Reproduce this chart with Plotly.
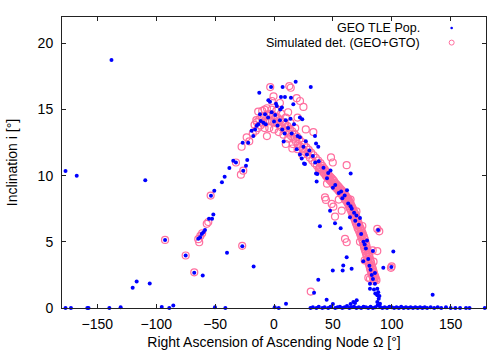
import plotly.graph_objects as go

# ---------------- DATA ----------------
# GEO TLE population: (RAAN deg, inclination deg)
geo_zero_line = [(-177,0),(-172.4,0),(-158.5,0),(-157.5,0),(-139.8,0),(-130.2,0.05),(-95.3,0.08),
    (-88.9,0),(-85.5,0.18),(-50.1,0.05),(-41.3,0),(0.6,0.05),(4,0),(31,0),(33,0.05),(36,0),(38,0.1),
    (41,0),(43,0.05),(46,0),(48,0.1),(50,0.3),(52,0),(54,0.05),(56,0.1),(58,0),(60,0.05),(62,0.15),
    (64,0),(66,0.05),(68,0.1),(70,0),(72,0.05),(74,0),(76,0.1),(78,0.05),(80,0),(82,0.1),(84,0),
    (86,0.05),(88,0.2),(90,0.1),(92,0),(94,0.05),(96,0),(98,0.1),(100,0.05),(102,0),(104,0.05),
    (106,0),(108,0.1),(110,0),(112,0.05),(114,0),(116,0.05),(118,0),(120,0.05),(122,0),(124,0.05),
    (126,0),(128,0.05),(130,0),(133,0.05),(136,0),(139,0.05),(142,0),(146,0.05),(150,0),(154,0),
    (158,0),(163,0),(166,0),(179,0)]
geo_tail = [(67.4,0.45),(70.2,0.58),(68.8,0.38),(65,0.3),(81.5,1.84),(85.7,1.84),(81.5,1.46),
    (84.9,1.39),(87.7,1.46),(88.5,1.2),(87.7,0.96),(88.9,0.7),(87.7,0.45),(90,0.33),(86,1.1),(89.5,0.9)]
geo_outliers = [(-177,10.35),(-167.5,10.0),(-138,18.75),(-109.3,9.65),(-116.6,2.0),(-120,1.54),
    (-105.5,1.86),(-92.5,5.15),(-75,3.97),(-67.7,2.67),(-60.5,2.46),(-39.9,4.17),(-26.9,4.67),
    (-17.3,3.14),(10.2,0.33),(34,1.16),(134.7,1.0),(101.3,4.27),(61.7,3.84),(49.9,2.84),(44.7,0.63),
    (37.6,2.14),(39,6.18),(56.6,6.03),(47.6,7.36),(51.8,6.41),(64.5,6.86),(35.7,10.17),(65.1,10.17),
    (36.2,9.57),(58.3,2.84),(58.8,3.22),(65.9,2.97),(92.8,3.04),(85.7,2.64),(75.8,3.54),(99.6,3.1),
    (88.4,5.9),(84,4.3)]
geo_arm = [(-64.3,5.23),(-62.8,5.35),(-61.4,5.6),(-60,5.73),(-58.6,5.9),(-55.2,6.74),(-52.6,6.74),
    (-51.5,7.06),(-50.7,8.87),(-53.5,8.49),(-44.2,9.5),(-41.9,9.92),(-37.9,10.58),(-34.6,11.13),
    (-32.3,11.0),(-22.7,11.18),(-23.8,10.75),(-26.1,10.38),(-26.6,12.5),(-21.9,12.5),(-17.6,13.0),
    (-19,13.4),(-16.1,13.5),(-14.7,13.77),(-13.4,13.9),(-11.3,14.14),(-11.9,14.65),(-7.6,14.65),
    (-12.5,16.28),(-2.5,16.7),(-4.8,15.7),(-3.4,15.6),(1.7,15.45),(7.3,16.7),(14.4,15.9),(18.4,17.1),
    (5.9,15.95),(9.3,15.95),(16.4,15.4),(8.2,12.58),(19.3,12.0),(22,11.6),(23.5,11.3),(26.3,10.88),
    (31.2,16.7),(22,14.4),(24,14.27),(34.8,13.0),(35.7,12.43),(37.6,12.19),(25.5,10.93),(36.8,10.13),
    (2.4,15.27),(5.3,15.0),(6.7,15.15)]
geo_band = [(42,10.6),(46,10.2),(52,9.3),(55,8.7),(60,8.5),(63,7.9),(66,7.5),(70,7.0),(72,6.3),
    (74,5.6),(76,5.0),(78,4.5),(80,3.7),(81,3.2),(82,2.9),(83,2.5),(84,2.2),(38,11.1),(30,11.9),
    (27,12.6),(20,13.0),(12,13.6),(5,14.2),(0,14.1),(-5,14.4),(-9,14.0),(3,13.8),(10,14.2),(15,13.2),
    (25,12.2),(33,11.5),(45,9.8),(57,8.8),(68,7.2),(-2,14.8),(7,13.5),(17,13.9),(28,11.6),(48,10.4),
    (62,8.9),(73,6.8),(79,5.1),(-7,13.9),(1,14.6),(9,13.2),(14,14.3),(22,12.9),(35,11.0),(50,9.1),
    (58,8.3),(65,7.7),(69,6.6),(77,4.8)]

# Simulated detections (GEO+GTO): (RAAN deg, inclination deg)
sim_band_top_a = [(-16.5,13.85),(-14.5,14.05),(-12.5,14.25),(-10.5,14.4),(-8.5,14.5),(-6.5,14.6),
    (-4.5,14.65),(-2.5,14.65),(-0.5,14.55),(1.5,14.45),(3.5,14.35),(5.5,14.2),(7.5,14.05),(9.5,13.9),
    (11.5,13.75),(13.5,13.55),(15.5,13.35),(17.5,13.15),(19.5,12.95),(21.5,12.75),(23.5,12.55),
    (25.5,12.35),(27.5,12.15),(29.5,11.95),(31.5,11.75),(33.5,11.55),(35.5,11.35),(37.5,11.15),
    (39.5,10.95)]
sim_band_top_b = [(-15.5,13.4),(-13.5,13.6),(-11.5,13.8),(-9.5,13.95),(-7.5,14.05),(-5.5,14.15),
    (-3.5,14.15),(-1.5,14.1),(0.5,14.05),(2.5,13.95),(4.5,13.85),(6.5,13.65),(8.5,13.5),(10.5,13.35),
    (12.5,13.2),(14.5,13.0),(16.5,12.8),(18.5,12.6),(20.5,12.4),(22.5,12.2),(24.5,12.0),(26.5,11.8),
    (28.5,11.6),(30.5,11.35),(32.5,11.15),(34.5,10.95),(36.5,10.75),(38.5,10.55)]
sim_band_top_c = [(-10,14.9),(-6,15.1),(-2,15.0),(2,14.9),(6,14.7),(10,14.4),(14,14.0),(18,13.6),
    (-8,13.6),(-4,13.6),(0,13.5),(4,13.3),(8,13.1),(12,12.8),(16,12.4),(20,12.0),(24,11.6)]
sim_band_steep_a = [(41,10.75),(42,10.6),(43,10.5),(44,10.35),(45,10.25),(46,10.1),(47,10.0),(48,9.9),
    (49,9.8),(50,9.7),(51,9.6),(52,9.45),(53,9.35),(54,9.25),(55,9.15),(56,9.05),(57,8.95),(58,8.85),
    (59,8.75),(60,8.6),(61,8.5),(62,8.35),(63,8.25),(63.7,8.1),(64.4,8.0),(65,7.9),(65.7,7.75),
    (66.4,7.6),(67,7.5),(67.7,7.35),(68.4,7.2),(69,7.1),(69.6,6.95),(70.3,6.8),(71,6.6),(71.6,6.45),
    (72.3,6.3),(73,6.1),(73.6,6.0),(74.3,5.85),(75,5.7),(75.6,5.55),(76.3,5.4),(77,5.2),(77.5,5.0),
    (78,4.85),(78.5,4.7),(79,4.5),(79.5,4.35),(80,4.2),(80.5,4.05),(81,3.9),(81.5,3.7),(82,3.55),
    (82.5,3.4),(83,3.2),(83.5,3.05),(84,2.9),(84.5,2.75),(85,2.6),(85.5,2.45),(86,2.35),(86.5,2.2),
    (87,2.1)]
sim_band_steep_b = [(39,10.65),(40,10.5),(41,10.4),(42,10.25),(43,10.15),(44,10.0),(45,9.9),(46,9.8),
    (47,9.7),(48,9.6),(49,9.5),(50,9.35),(51,9.25),(52,9.15),(53,9.05),(54,8.95),(55,8.85),(56,8.75),
    (57,8.65),(58,8.5),(59,8.4),(60,8.25),(61,8.15),(61.7,8.05),(62.4,7.95),(63,7.85),(63.7,7.7),
    (64.4,7.55),(65,7.45),(65.7,7.3),(66.4,7.15),(67,7.05),(67.6,6.9),(68.3,6.75),(69,6.55),(69.6,6.4),
    (70.3,6.25),(71,6.05),(71.6,5.95),(72.3,5.8),(73,5.65),(73.6,5.5),(74.3,5.35),(75,5.15),(75.5,5.0),
    (76,4.8),(76.5,4.6),(77,4.45),(77.5,4.3),(78,4.15),(78.5,4.0),(79,3.85),(79.5,3.65),(80,3.5),
    (80.5,3.35),(81,3.2),(81.5,3.0),(82,2.85),(82.5,2.7),(83,2.55),(83.5,2.45),(84,2.3),(84.5,2.2),
    (85,2.05)]
sim_outliers = [(-92.5,5.15),(-75,3.97),(-67.7,2.7),(-53.8,8.5),(-55.8,6.5),(-57.1,6.36),
    (-63.5,4.97),(-64.3,5.2),(-62.5,5.45),(-61,5.65),(-27,4.7),(-32.3,11.0),(-26.1,10.38),
    (-28.1,10.08),(-27.5,12.19),(-23.2,12.9),(-13.4,14.85),(-3.2,16.7),(13,16.78),(14.2,16.65),
    (-0.4,16.0),(-1.8,15.65),(19.3,15.86),(22.1,15.65),(33.4,13.3),(15.6,12.06),(10,12.4),
    (48.4,11.38),(49.9,11.0),(61.7,10.8),(25,15.2),(5,15.5),(-8,15.0),(-18,13.2),(-21,12.6),
    (-15,14.2),(27,13.5),(20,14.4),(12,14.8),(-6,13.0),(43.3,8.36),(44.1,8.17),(49,7.87),
    (50.4,7.66),(51.8,6.91),(57.5,7.36),(60.3,5.23),(61.7,4.97),(83.8,4.35),(87.7,4.3),
    (87.7,5.98),(89.4,5.8),(99.9,3.14),(99.3,3.04),(80.1,2.29),(81.5,2.21),(31.2,1.24),
    (38,10.5),(45,9.4),(55,8.2),(65,8.2),(70,7.3),(75,6.2),(77,3.6),(73,5.0),(84.5,3.5)]

geo_points = geo_zero_line + geo_tail + geo_outliers + geo_arm + geo_band
sim_points = (sim_band_top_a + sim_band_top_b + sim_band_top_c + sim_band_steep_a
              + sim_band_steep_b + sim_outliers)
geo_raan = [p[0] for p in geo_points]
geo_inc = [p[1] for p in geo_points]
sim_raan = [p[0] for p in sim_points]
sim_inc = [p[1] for p in sim_points]

x_ticks = [-150, -100, -50, 0, 50, 100, 150]
y_ticks = [0, 5, 10, 15, 20]
legend_labels = ["GEO TLE Pop.", "Simulated det. (GEO+GTO)"]

BLUE = "#0000ff"
PINK = "#ff6f9f"
FONT = "Liberation Sans, Arial, sans-serif"

fig = go.Figure()
fig.add_trace(go.Scatter(x=sim_raan, y=sim_inc, mode="markers", name=legend_labels[1],
    marker=dict(symbol="circle-open", size=7, color=PINK, line=dict(width=1.2, color=PINK)),
    cliponaxis=False))
fig.add_trace(go.Scatter(x=geo_raan, y=geo_inc, mode="markers", name=legend_labels[0],
    marker=dict(symbol="circle", size=4, color=BLUE, line=dict(width=0)), cliponaxis=False))

axis_common = dict(showgrid=False, zeroline=False, showline=True, linecolor="#222", linewidth=1,
    mirror="ticks", ticks="inside", ticklen=4, tickcolor="#222", automargin=False,
    tickfont=dict(family=FONT, size=14, color="black"))

fig.update_xaxes(range=[-180, 180], tickvals=x_ticks, ticklabelstandoff=3,
    title=dict(text="Right Ascension of Ascending Node Ω [°]", font=dict(family=FONT, size=14, color="black"), standoff=15),
    **axis_common)
fig.update_yaxes(range=[0, 22], tickvals=y_ticks, ticklabelstandoff=5,
    title=dict(text="Inclination i [°]", font=dict(family=FONT, size=14, color="black"), standoff=16),
    **axis_common)

# gnuplot-style key: text right-aligned, sample to the right
fig.add_annotation(xref="paper", yref="paper", x=0.848, y=0.962, text=legend_labels[0],
    showarrow=False, xanchor="right", yanchor="middle", font=dict(family=FONT, size=12.5, color="black"))
fig.add_annotation(xref="paper", yref="paper", x=0.848, y=0.912, text=legend_labels[1],
    showarrow=False, xanchor="right", yanchor="middle", font=dict(family=FONT, size=12.5, color="black"))
fig.add_shape(type="circle", xref="paper", yref="paper", xsizemode="pixel", ysizemode="pixel",
    xanchor=0.919, yanchor=0.962, x0=-1.3, x1=1.3, y0=-1.3, y1=1.3,
    fillcolor=BLUE, line=dict(width=0))
fig.add_shape(type="circle", xref="paper", yref="paper", xsizemode="pixel", ysizemode="pixel",
    xanchor=0.919, yanchor=0.912, x0=-2.5, x1=2.5, y0=-2.5, y1=2.5,
    fillcolor="rgba(0,0,0,0)", line=dict(width=1, color=PINK))

fig.update_layout(width=500, height=350, margin=dict(l=62, r=14, t=17, b=42),
    paper_bgcolor="white", plot_bgcolor="white", showlegend=False,
    font=dict(family=FONT, size=14, color="black"))

fig.write_html("out.html")
